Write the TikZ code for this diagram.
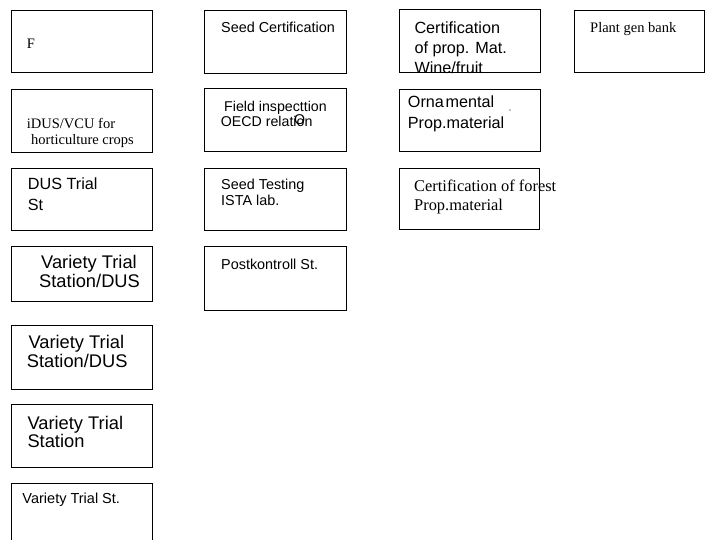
\documentclass[tikz,border=0pt]{standalone}
\usepackage{fontspec}
\newfontfamily\sansf{Liberation Sans}
\newfontfamily\seriff{Liberation Serif}
\begin{document}
\begin{tikzpicture}[x=1pt,y=-1pt,
  box/.style={draw=black, line width=1pt, inner sep=0pt, anchor=north west},
  sans/.style={font=\fontsize{#1}{#1}\selectfont\sansf, inner sep=0pt, anchor=base west},
  serif/.style={font=\fontsize{#1}{#1}\selectfont\seriff, inner sep=0pt, anchor=base west}]
\useasboundingbox (0,0) rectangle (705,540);
\clip (0,0) rectangle (705,540);
% column 1
\node[box, minimum width=141pt, minimum height=62pt] (b1) at (11,10) {};
\node[box, minimum width=141pt, minimum height=63pt] (b2) at (11,89) {};
\node[box, minimum width=141pt, minimum height=62pt] (b3) at (11,168) {};
\node[box, minimum width=141pt, minimum height=55pt] (b4) at (11,246) {};
\node[box, minimum width=141pt, minimum height=64pt] (b5) at (11,325) {};
\node[box, minimum width=141pt, minimum height=63pt] (b6) at (11,404) {};
\node[box, minimum width=141pt, minimum height=80pt] (b7) at (11,483) {};
% column 2
\node[box, minimum width=142pt, minimum height=63pt] (c1) at (204,10) {};
\node[box, minimum width=142pt, minimum height=63pt] (c2) at (204,88.5) {};
\node[box, minimum width=142pt, minimum height=62pt] (c3) at (204,168) {};
\node[box, minimum width=142pt, minimum height=64pt] (c4) at (204,246) {};
% column 3
\node[box, minimum width=141pt, minimum height=63pt] (d1) at (399,9.5) {};
\node[box, minimum width=141pt, minimum height=62pt] (d2) at (399,89) {};
\node[box, minimum width=140pt, minimum height=61.5pt] (d3) at (399,168) {};
% column 4
\node[box, minimum width=130pt, minimum height=62pt] (e1) at (574,10) {};

% texts column 1
\node[serif=14.5] (tb1) at (26.7,48.3) {F};
\node[serif=14.5] (tb2a) at (26.7,128.3) {iDUS/VCU for};
\node[serif=14.5] (tb2b) at (31,145) {horticulture crops};
\node[sans=16.2] (tb3a) at (27.7,190) {DUS Trial};
\node[sans=16.2] (tb3b) at (27.7,211) {St};
\node[sans=18.3] (tb4a) at (41,269) {Variety Trial};
\node[sans=18.3] (tb4b) at (39,288) {Station/DUS};
\node[sans=18.3] (tb5a) at (28.3,348.5) {Variety Trial};
\node[sans=18.3] (tb5b) at (26.7,367.5) {Station/DUS};
\node[sans=18.3] (tb6a) at (27.3,429) {Variety Trial};
\node[sans=18.3] (tb6b) at (27.3,447) {Station};
\node[sans=14.5] (tb7) at (22.3,503.3) {Variety Trial St.};
% texts column 2
\node[sans=14.4] (tc1) at (221,32.7) {Seed Certification};
\node[sans=14.2] (tc2a) at (224,111.7) {Field inspecttion};
\node[sans=14.2] (tc2b) at (220.7,126.7) {OECD relation};
\node[sans=14.2] (tc2o) at (294,124.3) {O};
\node[sans=14.4] (tc3a) at (221,190) {Seed Testing};
\node[sans=14.4] (tc3b) at (221,206) {ISTA lab.};
\node[sans=14.4] (tc4) at (221,270) {Postkontroll St.};
% texts column 3
\begin{scope}
\clip (d1.north west) rectangle (d1.south east);
\node[sans=16.2] (td1a) at (414.3,33.3) {Certification};
\node[sans=16.2] (td1b) at (414.3,53.3) {of prop. Mat.};
\node[sans=16.2] (td1c) at (414.3,73.5) {Wine/fruit};
\end{scope}
\node[sans=16.2] (td2a) at (407.7,107.7) {Orna\hspace{1.8pt}mental};
\node[sans=16.2] (td2b) at (407.7,128.3) {Prop.material};
\fill (510,110) circle (0.7);
\node[serif=16.4] (td3a) at (414,191.7) {Certification of forest};
\node[serif=16.4] (td3b) at (414,210.7) {Prop.material};
% column 4
\node[serif=14.5] (te1) at (590,32.7) {Plant gen bank};
\end{tikzpicture}
\end{document}
